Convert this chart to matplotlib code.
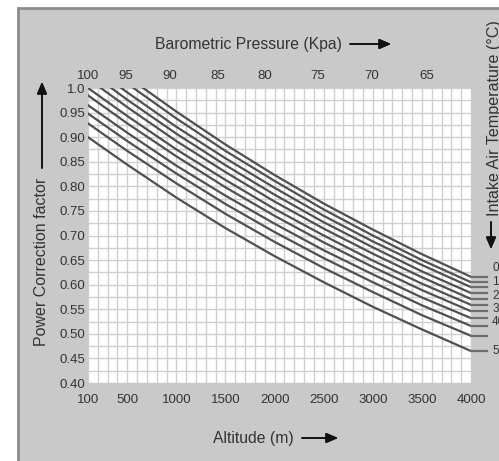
import matplotlib.pyplot as plt
from matplotlib.patches import Rectangle

plt.rcParams['font.family'] = ['Liberation Sans', 'DejaVu Sans']

# altitude points (m) where each curve was read
altitude = [100, 500, 1000, 1500, 2000, 2500, 3000, 3500, 4000]

# power correction factor, one list per intake air temperature curve (top to bottom)
# values above 1.0 are clipped by the plot top
cf_1 = [1.084, 1.023, 0.952, 0.885, 0.823, 0.765, 0.712, 0.662, 0.616]
cf_2 = [1.069, 1.009, 0.938, 0.872, 0.811, 0.753, 0.700, 0.650, 0.605]
cf_3 = [1.050, 0.991, 0.921, 0.857, 0.797, 0.740, 0.688, 0.640, 0.595]
cf_4 = [1.035, 0.976, 0.907, 0.843, 0.783, 0.727, 0.676, 0.627, 0.583]
cf_5 = [1.019, 0.961, 0.892, 0.829, 0.769, 0.714, 0.663, 0.615, 0.571]
cf_6 = [1.000, 0.943, 0.875, 0.813, 0.754, 0.700, 0.649, 0.602, 0.559]
cf_7 = [0.985, 0.928, 0.861, 0.798, 0.740, 0.686, 0.636, 0.589, 0.546]
cf_8 = [0.965, 0.909, 0.842, 0.781, 0.724, 0.670, 0.621, 0.574, 0.532]
cf_9 = [0.948, 0.892, 0.826, 0.764, 0.707, 0.654, 0.605, 0.558, 0.516]
cf_10 = [0.928, 0.872, 0.806, 0.744, 0.687, 0.634, 0.585, 0.538, 0.496]
cf_11 = [0.900, 0.844, 0.777, 0.715, 0.658, 0.605, 0.555, 0.509, 0.465]
curves = [cf_1, cf_2, cf_3, cf_4, cf_5, cf_6, cf_7, cf_8, cf_9, cf_10, cf_11]

# bottom axis
alt_ticks = [100, 500, 1000, 1500, 2000, 2500, 3000, 3500, 4000]
# top axis: barometric pressure labels and the altitude they sit at
kpa_labels = ['100', '95', '90', '85', '80', '75', '70', '65']
kpa_alt = [100, 488, 937, 1417, 1897, 2438, 2990, 3551]
# y axis
cf_ticks = [1.0, 0.95, 0.90, 0.85, 0.80, 0.75, 0.70, 0.65, 0.60, 0.55, 0.50, 0.45, 0.40]
cf_tick_labels = ['1.0', '0.95', '0.90', '0.85', '0.80', '0.75', '0.70', '0.65',
                  '0.60', '0.55', '0.50', '0.45', '0.40']
# temperature labels on the right (cut off by the picture edge)
temp_labels = ['0', '10', '20', '30', '40', '50']
temp_label_cf = [0.634, 0.606, 0.577, 0.551, 0.525, 0.465]

W, H = 499, 461
fig = plt.figure(figsize=(W / 100, H / 100), dpi=100)
fig.patch.set_facecolor('white')
fig.patches.append(Rectangle((18 / W, -0.05), 1.2, 1.05 - 8 / H, transform=fig.transFigure,
                             facecolor='#c9c9c9', edgecolor='#8c8c8c', lw=2, zorder=-10))

ax = fig.add_axes([88 / W, 1 - 383 / H, (471 - 88) / W, (383 - 88) / H])
ax.set_facecolor('white')
ax.set_xlim(100, 4000)
ax.set_ylim(0.40, 1.0)

# fine grid
for a in range(100, 4001, 100):
    ax.axvline(a, color='#cfcfcf', lw=1.0, zorder=1)
for k in range(25):
    ax.axhline(0.40 + k * 0.025, color='#cfcfcf', lw=1.0, zorder=1)

for c in curves:
    ax.plot(altitude, c, color='#505050', lw=1.6, zorder=3)
    # short leader to the temperature labels
    ax.plot([4000, 4165], [c[-1], c[-1]], color='#6e6e6e', lw=1.6, clip_on=False, zorder=3)

for s in ax.spines.values():
    s.set_visible(False)

tc = '#333333'
ax.set_xticks(alt_ticks)
ax.set_xticklabels([str(a) for a in alt_ticks])
ax.set_yticks(cf_ticks)
ax.set_yticklabels(cf_tick_labels)
ax.tick_params(axis='x', length=0, pad=8, labelsize=9.5, labelcolor=tc)
ax.tick_params(axis='y', length=0, pad=2, labelsize=9.5, labelcolor=tc)

top = ax.twiny()
top.set_xlim(ax.get_xlim())
top.set_xticks(kpa_alt)
top.set_xticklabels(kpa_labels)
top.tick_params(axis='x', length=0, pad=4, labelsize=9.5, labelcolor=tc)
for s in top.spines.values():
    s.set_visible(False)

for t, v in zip(temp_labels, temp_label_cf):
    ax.text(4215, v, t, ha='left', va='center', fontsize=8.5, color=tc, clip_on=False)

fig.text(342 / W, 1 - 44 / H, 'Barometric Pressure (Kpa)', ha='right', va='center',
         fontsize=11.3, color=tc)
fig.text(294 / W, 1 - 438 / H, 'Altitude (m)', ha='right', va='center',
         fontsize=11.3, color=tc)
fig.text(42 / W, 1 - 346 / H, 'Power Correction factor', ha='center', va='bottom',
         rotation=90, fontsize=11.5, color=tc)
fig.text(494 / W, 1 - 216 / H, 'Intake Air Temperature (\u00b0C)', ha='center', va='bottom',
         rotation=90, fontsize=11.6, color=tc)

arrow = dict(arrowstyle='-|>,head_length=0.7,head_width=0.3', color='#111111', lw=1.2,
             shrinkA=0, shrinkB=0)


def farrow(x0, y0, x1, y1):
    fig.add_artist(plt.annotate('', xy=(x1 / W, 1 - y1 / H), xytext=(x0 / W, 1 - y0 / H),
                                xycoords='figure fraction', textcoords='figure fraction',
                                arrowprops=arrow, annotation_clip=False))


farrow(350, 44, 391, 44)
farrow(302, 438, 338, 438)
farrow(42, 168, 42, 82)
farrow(491, 222, 491, 249)

fig.savefig('out.png', dpi=100, facecolor='white')
